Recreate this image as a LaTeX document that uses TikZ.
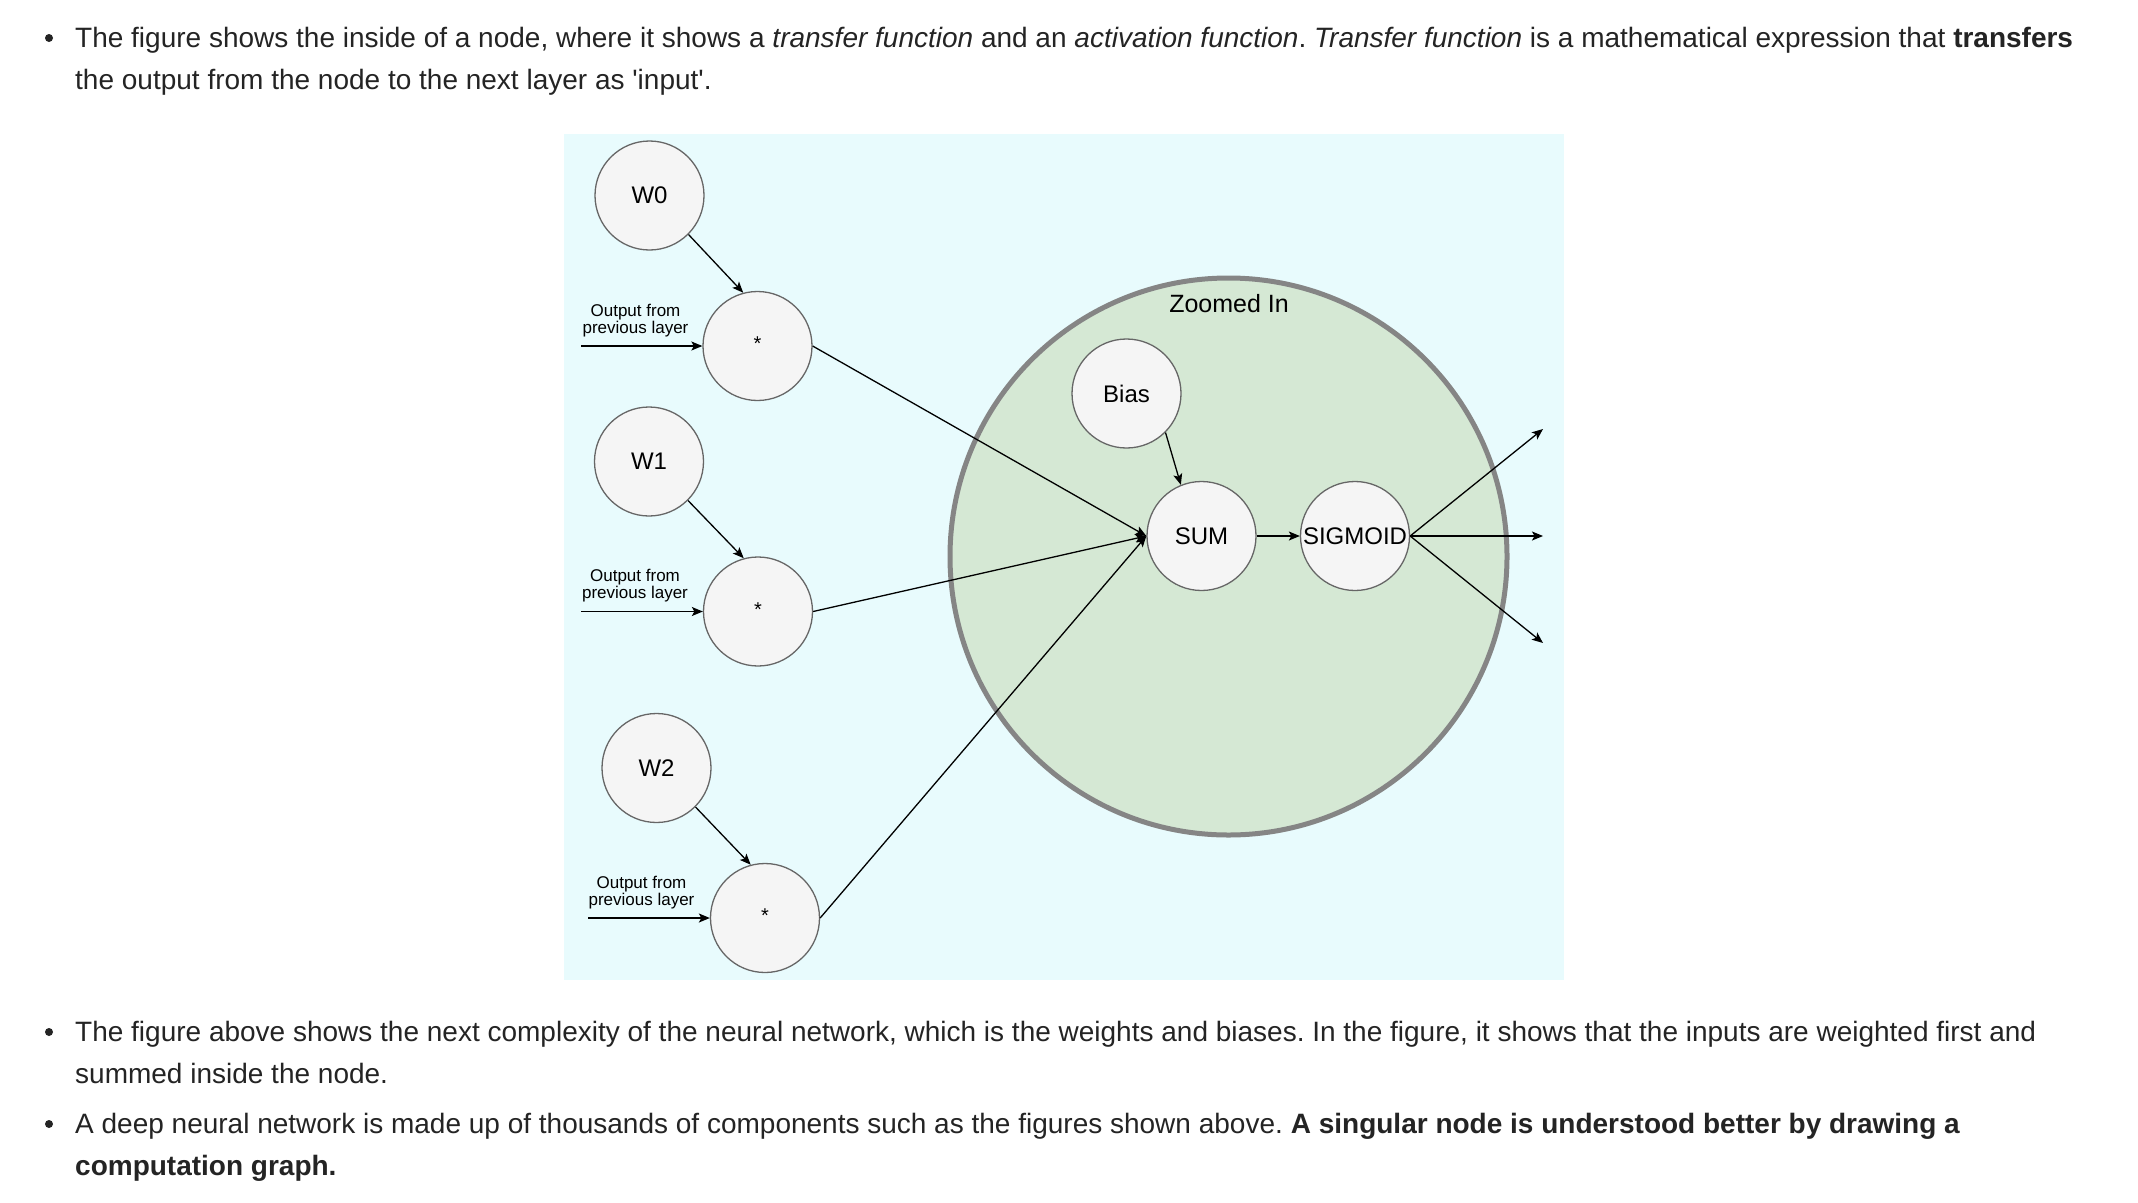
\documentclass[tikz,border=0pt]{standalone}
\usepackage{fontspec}
\setmainfont{Liberation Sans}[Ligatures=TeXOff]
\usetikzlibrary{arrows.meta}
\definecolor{bodytext}{HTML}{242424}
\definecolor{bgcyan}{HTML}{E8FBFD}
\definecolor{zoomfill}{HTML}{D5E8D4}
\definecolor{zoomline}{HTML}{858585}
\definecolor{nodefill}{HTML}{F5F5F5}
\definecolor{nodeline}{HTML}{666666}
\frenchspacing
\newcommand{\starmark}{\smash{\raisebox{-4.5pt}{*}}}
\begin{document}
\begin{tikzpicture}[x=1pt,y=-1pt,
  bodyline/.style={anchor=base west, inner sep=0pt, text=bodytext, font=\fontsize{28}{31}\selectfont},
  bulletdot/.style={fill=bodytext},
  opnode/.style={circle, draw=nodeline, fill=nodefill, line width=1.3pt, minimum size=109pt, inner sep=0pt, font=\fontsize{24}{28}\selectfont},
  starnode/.style={opnode, font=\fontsize{20}{22}\selectfont},
  inlabel/.style={align=center, anchor=south, inner sep=0pt, font=\fontsize{17}{17}\selectfont},
  conn/.style={line width=1.3pt, -{Stealth[length=11pt,width=9pt,inset=2.5pt]}},
]
\useasboundingbox[fill=white] (0,0) rectangle (2138,1202);

% body text
\fill[bulletdot] (49,38) circle[radius=4pt];
\node[bodyline] (l1) at (75,47) {The figure shows the inside of a node, where it shows a \textit{transfer function} and an \textit{activation function}. \textit{Transfer function} is a mathematical expression that \textbf{transfers}};
\node[bodyline] (l2) at (75,89) {the output from the node to the next layer as 'input'.};
\fill[bulletdot] (49,1032) circle[radius=4pt];
\node[bodyline] (l3) at (75,1041) {The figure above shows the next complexity of the neural network, which is the weights and biases. In the figure, it shows that the inputs are weighted first and};
\node[bodyline] (l4) at (75,1083) {summed inside the node.};
\fill[bulletdot] (49,1124) circle[radius=4pt];
\node[bodyline] (l5) at (75,1133) {A deep neural network is made up of thousands of components such as the figures shown above. \textbf{A singular node is understood better by drawing a}};
\node[bodyline] (l6) at (75,1175) {\textbf{computation graph.}};

% diagram background
\fill[bgcyan] (564,134) rectangle (1564,980);

% zoomed-in node
\node[circle, draw=zoomline, fill=zoomfill, line width=5pt, minimum size=557pt, inner sep=0pt] (zoom) at (1228.5,556.5) {};
\node[anchor=base, inner sep=0pt, font=\fontsize{25}{28}\selectfont] (zoomlabel) at (1229,312) {Zoomed In};

% weights and multipliers
\node[opnode] (w0) at (649.5,195.5) {W0};
\node[starnode] (m0) at (757.5,346) {\starmark};
\node[opnode] (w1) at (649,461.5) {W1};
\node[starnode] (m1) at (758,611.5) {\starmark};
\node[opnode] (w2) at (656.5,768) {W2};
\node[starnode] (m2) at (765,918) {\starmark};

\node[inlabel] (lab0) at (635.5,337) {Output from\\previous layer};
\node[inlabel] (lab1) at (635,602.5) {Output from\\previous layer};
\node[inlabel] (lab2) at (641.5,909) {Output from\\previous layer};

\coordinate (in0) at (581,346);
\coordinate (in1) at (581,611.5);
\coordinate (in2) at (588,918);

\draw[conn] (in0) -- (m0.west);
\draw[conn] (in1) -- (m1.west);
\draw[conn] (in2) -- (m2.west);

\draw[conn] (w0.-45) -- (m0.105);
\draw[conn] (w1.-45) -- (m1.105);
\draw[conn] (w2.-45) -- (m2.105);

% inside node
\node[opnode] (bias) at (1126.5,393.5) {Bias};
\node[opnode] (sum) at (1201.5,536) {SUM};
\node[opnode] (sig) at (1355,536) {SIGMOID};

\draw[conn] (m0.east) -- (sum.west);
\draw[conn] (m1.east) -- (sum.west);
\draw[conn] (m2.east) -- (sum.west);
\draw[conn] (bias.-45) -- (sum.112);
\draw[conn] (sum.east) -- (sig.west);

\coordinate (o1) at (1543,429);
\coordinate (o2) at (1543,536);
\coordinate (o3) at (1543,643);
\draw[conn] (sig.east) -- (o1);
\draw[conn] (sig.east) -- (o2);
\draw[conn] (sig.east) -- (o3);
\end{tikzpicture}
\end{document}
